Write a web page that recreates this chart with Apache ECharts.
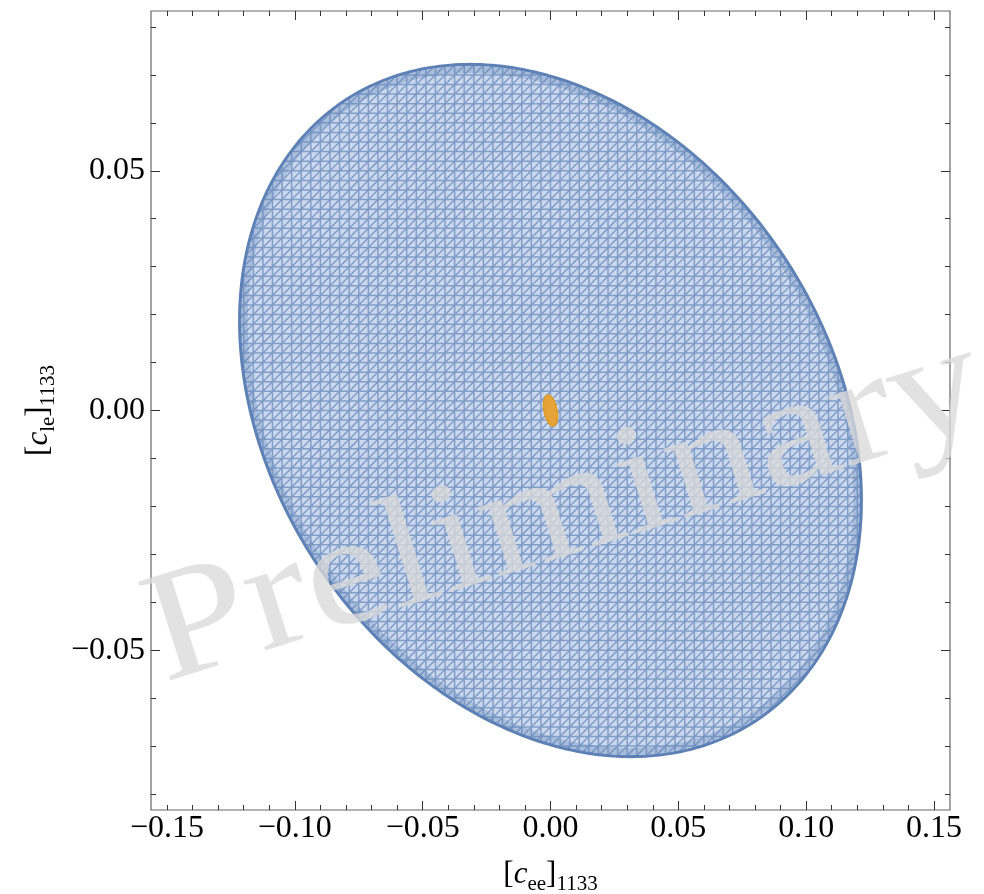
<!DOCTYPE html>
<html><head><meta charset="utf-8">
<script src="https://cdn.jsdelivr.net/npm/echarts@6/dist/echarts.min.js"></script>
<style>html,body{margin:0;padding:0;background:#fff}#c{width:984px;height:894px}</style>
</head><body><div id="c"></div>
<script>
// ---- data ----
const xRange = [-0.15625, 0.15625];
const yRange = [-0.08333, 0.08333];
const xTickLabels = [-0.15, -0.10, -0.05, 0, 0.05, 0.10, 0.15];
const xMajorTicks = [-0.10, -0.05, 0, 0.05, 0.10, 0.15];
const xMinorTicks = [-0.15,-0.14,-0.13,-0.12,-0.11,-0.10,-0.09,-0.08,-0.07,-0.06,-0.05,-0.04,-0.03,-0.02,-0.01,0,
  0.01,0.02,0.03,0.04,0.05,0.06,0.07,0.08,0.09,0.10,0.11,0.12,0.13,0.14,0.15];
const yTickLabels = [-0.05, 0, 0.05];
const yMajorTicks = [-0.05, 0, 0.05];
const yMinorTicks = [-0.08,-0.07,-0.06,-0.05,-0.04,-0.03,-0.02,-0.01,0,0.01,0.02,0.03,0.04,0.05,0.06,0.07,0.08];
// allowed regions: a*x^2 + 2*b*x*y + c*y^2 <= 1 (relative to centre)
const regionNames = ['blue region', 'orange region'];
const regionCenters = [[0, 0], [0, 0]];
const regionForms = [[72.47, 31.58, 205.6], [153500, 46050, 109650]];
const meshStep = [0.00375, 0.002];
const xTitle = '{b|[}{c|c}{s|ee}{b|]}{s|1133}';
const yTitle = '{b|[}{c|c}{s|le}{b|]}{s|1133}';
const watermark = 'Preliminary';

// ---- helpers ----
function quad(f, x, y) { return f[0]*x*x + 2*f[1]*x*y + f[2]*y*y; }
function chord(f, p, d) {
  const A = quad(f, d[0], d[1]);
  const B = f[0]*p[0]*d[0] + f[1]*(p[0]*d[1] + p[1]*d[0]) + f[2]*p[1]*d[1];
  const C = quad(f, p[0], p[1]) - 1;
  const disc = B*B - A*C;
  if (disc <= 0) return null;
  const s = Math.sqrt(disc);
  return [(-B - s)/A, (-B + s)/A];
}
function boundary(f, cx, cy, scale, n) {
  const a = f[0], b = f[1], c = f[2];
  const m = (a + c)/2, r = Math.sqrt(((a - c)/2)**2 + b*b);
  const l1 = m + r, l2 = m - r;
  let v1 = b !== 0 ? [b, l1 - a] : (a >= c ? [1, 0] : [0, 1]);
  const nn = Math.hypot(v1[0], v1[1]); v1 = [v1[0]/nn, v1[1]/nn];
  const v2 = [-v1[1], v1[0]];
  const pts = [];
  for (let i = 0; i < n; i++) {
    const t = 2*Math.PI*i/n;
    const u = Math.cos(t)*scale/Math.sqrt(l1), w = Math.sin(t)*scale/Math.sqrt(l2);
    pts.push([cx + v1[0]*u + v2[0]*w, cy + v1[1]*u + v2[1]*w]);
  }
  return pts;
}
function meshPath(api, f, cx, cy) {
  let d = '';
  const sx = meshStep[0], sy = meshStep[1];
  const seg = (p, dir) => {
    const t = chord(f, p, dir); if (!t) return;
    const A = api.coord([cx + p[0] + t[0]*dir[0], cy + p[1] + t[0]*dir[1]]);
    const B = api.coord([cx + p[0] + t[1]*dir[0], cy + p[1] + t[1]*dir[1]]);
    d += 'M' + A[0].toFixed(2) + ' ' + A[1].toFixed(2) + 'L' + B[0].toFixed(2) + ' ' + B[1].toFixed(2);
  };
  for (let i = -60; i <= 60; i++) seg([i*sx, 0], [0, 1]);
  for (let j = -60; j <= 60; j++) seg([0, j*sy], [1, 0]);
  for (let k = -130; k <= 130; k++) seg([k*sx, 0], [sx, sy]);
  return d;
}
function fmt(v) {
  if (Math.abs(v) < 1e-9) return '0.00';
  return (v < 0 ? '\u2212' : '') + Math.abs(v).toFixed(2);
}

const regionStyles = [
  { fill: '#cbd8ee', stroke: '#5e81b5', mesh: 'rgba(94,129,181,0.68)', band: 'rgba(94,129,181,0.3)' },
  { fill: '#e6a33a', stroke: '#e19c24', mesh: null, band: null }
];

function renderItem(params, api) {
  const i = params.dataIndex;
  const f = regionForms[i];
  const cx = api.value(0), cy = api.value(1);
  const st = regionStyles[i];
  const pts = boundary(f, cx, cy, 1, 360).map(p => api.coord(p));
  const children = [{ type: 'polygon', shape: { points: pts }, style: { fill: st.fill, stroke: null } }];
  if (st.mesh) {
    children.push({ type: 'path', shape: { pathData: meshPath(api, f, cx, cy) }, style: { fill: null, stroke: st.mesh, lineWidth: 1.5 } });
  }
  if (st.band) {
    const inner = boundary(f, cx, cy, 0.985, 360).map(p => api.coord(p));
    children.push({ type: 'polygon', shape: { points: inner }, style: { fill: null, stroke: st.band, lineWidth: 7 } });
  }
  children.push({ type: 'polygon', shape: { points: pts }, style: { fill: null, stroke: st.stroke, lineWidth: i === 0 ? 3 : 1.5 } });
  return { type: 'group', children };
}

const FONT = '"Liberation Serif", "Times New Roman", serif';
const tickColor = '#333';
const rich = {
  b: { fontFamily: FONT, fontSize: 31, color: '#000' },
  c: { fontFamily: FONT, fontSize: 31, fontStyle: 'italic', color: '#000' },
  s: { fontFamily: FONT, fontSize: 21, color: '#000', padding: [20, 0, 0, 0] }
};

function xAx(pos, ticks, len, labels) {
  return {
    type: 'value', min: xRange[0], max: xRange[1], position: pos, gridIndex: 0,
    axisLine: { show: false, onZero: false },
    axisTick: { show: true, inside: true, length: len, customValues: ticks, lineStyle: { color: tickColor, width: 1 } },
    axisLabel: labels ? { show: true, customValues: xTickLabels, formatter: fmt, fontFamily: FONT, fontSize: 32, color: '#000', margin: 3 } : { show: false, customValues: ticks },
    splitLine: { show: false }
  };
}
function yAx(pos, ticks, len, labels) {
  return {
    type: 'value', min: yRange[0], max: yRange[1], position: pos, gridIndex: 0,
    axisLine: { show: false, onZero: false },
    axisTick: { show: true, inside: true, length: len, customValues: ticks, lineStyle: { color: tickColor, width: 1 } },
    axisLabel: labels ? { show: true, customValues: yTickLabels, formatter: fmt, fontFamily: FONT, fontSize: 32, color: '#000', margin: 6 } : { show: false, customValues: ticks },
    splitLine: { show: false }
  };
}

const xAxes = [xAx('bottom', xMajorTicks, 9, true), xAx('bottom', xMinorTicks, 5, false), xAx('top', xMajorTicks, 9, false), xAx('top', xMinorTicks, 5, false)];
Object.assign(xAxes[0], { name: xTitle, nameLocation: 'middle', nameGap: 44, nameTextStyle: { rich } });
const yAxes = [yAx('left', yMajorTicks, 9, true), yAx('left', yMinorTicks, 5, false), yAx('right', yMajorTicks, 9, false), yAx('right', yMinorTicks, 5, false)];
Object.assign(yAxes[0], { name: yTitle, nameLocation: 'middle', nameGap: 92, nameRotate: 90, nameTextStyle: { rich } });

const chart = echarts.init(document.getElementById('c'), null, { renderer: 'canvas' });
chart.setOption({
  animation: false,
  backgroundColor: '#fff',
  grid: { left: 151, right: 34, top: 11, bottom: 84, show: true, borderColor: '#666', borderWidth: 1.2, backgroundColor: 'transparent', containLabel: false, outerBoundsMode: 'none' },
  xAxis: xAxes,
  yAxis: yAxes,
  series: [{
    type: 'custom', xAxisIndex: 0, yAxisIndex: 0, clip: true,
    renderItem,
    data: regionNames.map((n, i) => ({ name: n, value: regionCenters[i] }))
  }],
  graphic: [{
    type: 'text', x: 566, y: 512, rotation: 17.5 * Math.PI / 180, scaleY: 0.86, z: 100, silent: true,
    style: { text: watermark, fontFamily: FONT, fontSize: 184, fill: 'rgba(218,218,218,0.78)', align: 'center', verticalAlign: 'middle', textAlign: 'center', textVerticalAlign: 'middle' }
  }]
});
</script></body></html>
